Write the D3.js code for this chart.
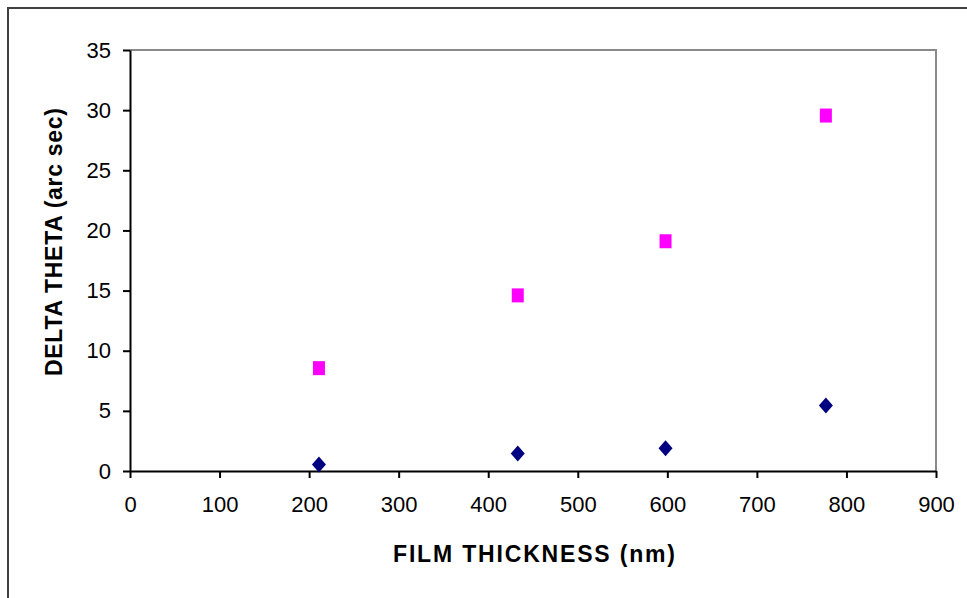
<!DOCTYPE html>
<html>
<head>
<meta charset="utf-8">
<script src="https://cdn.jsdelivr.net/npm/d3@7"></script>
<style>
  html, body { margin: 0; padding: 0; background: #fff; }
  svg { display: block; }
  text { font-family: "Liberation Sans", Arial, sans-serif; fill: #000; }
</style>
</head>
<body>
<svg id="chart" width="967" height="598"></svg>
<script>
// ---- data ----
const thickness = [211, 433, 598, 777];
const seriesSquare = [8.55, 14.6, 19.1, 29.55];
const seriesDiamond = [0.55, 1.45, 1.9, 5.45];
const xTicks = [0, 100, 200, 300, 400, 500, 600, 700, 800, 900];
const yTicks = [0, 5, 10, 15, 20, 25, 30, 35];
const xTitle = "FILM THICKNESS (nm)";
const yTitle = "DELTA THETA (arc sec)";

const svg = d3.select("#chart");
const W = 967, H = 598;
const plot = { left: 130, top: 50, right: 936, bottom: 471 };

// outer frame (extends past the right/bottom edges)
svg.append("rect")
  .attr("x", 8).attr("y", 8)
  .attr("width", W + 20).attr("height", H + 20)
  .attr("fill", "#fff")
  .attr("stroke", "#404040").attr("stroke-width", 2);

const x = d3.scaleLinear().domain([0, 900]).range([plot.left, plot.right]);
const y = d3.scaleLinear().domain([0, 35]).range([plot.bottom, plot.top]);

// plot area border (top & right in gray)
svg.append("path")
  .attr("d", `M${x(0)},${y(35)}H${x(900)}V${y(0)}`)
  .attr("fill", "none").attr("stroke", "#8a8a8a").attr("stroke-width", 2);

// axes
const xAxis = d3.axisBottom(x).tickValues(xTicks).tickSize(7).tickPadding(18).tickSizeOuter(0);
const yAxis = d3.axisLeft(y).tickValues(yTicks).tickSize(7).tickPadding(12).tickSizeOuter(0);

const gx = svg.append("g").attr("transform", `translate(0,${plot.bottom})`).call(xAxis);
const gy = svg.append("g").attr("transform", `translate(${plot.left},0)`).call(yAxis);

[gx, gy].forEach(g => {
  g.select(".domain").attr("stroke", "#000").attr("stroke-width", 2);
  g.selectAll(".tick line").attr("stroke", "#000").attr("stroke-width", 2);
  g.selectAll(".tick text")
    .attr("fill", "#000")
    .style("font-family", "'Liberation Sans', Arial, sans-serif")
    .style("font-size", "22px");
});
gx.selectAll(".tick text").attr("dy", "0.71em");

// axis titles
svg.append("text")
  .attr("x", 534).attr("y", 562)
  .attr("text-anchor", "middle")
  .attr("textLength", 282)
  .attr("lengthAdjust", "spacing")
  .style("font-size", "23px").style("font-weight", "bold")
  .text(xTitle);

svg.append("text")
  .attr("transform", "translate(62,242) rotate(-90)")
  .attr("text-anchor", "middle")
  .attr("textLength", 268)
  .attr("lengthAdjust", "spacing")
  .style("font-size", "23px").style("font-weight", "bold")
  .text(yTitle);

// markers
const squareData = thickness.map((t, i) => ({ t, v: seriesSquare[i] }));
const diamondData = thickness.map((t, i) => ({ t, v: seriesDiamond[i] }));

svg.append("g").selectAll("rect")
  .data(squareData).join("rect")
  .attr("x", d => x(d.t) - 6)
  .attr("y", d => y(d.v) - 7)
  .attr("width", 12).attr("height", 14)
  .attr("fill", "#ff00ff");

svg.append("g").selectAll("path")
  .data(diamondData).join("path")
  .attr("transform", d => `translate(${x(d.t)},${y(d.v)})`)
  .attr("d", "M0,-8L7,0L0,8L-7,0Z")
  .attr("fill", "#000080");
</script>
</body>
</html>
